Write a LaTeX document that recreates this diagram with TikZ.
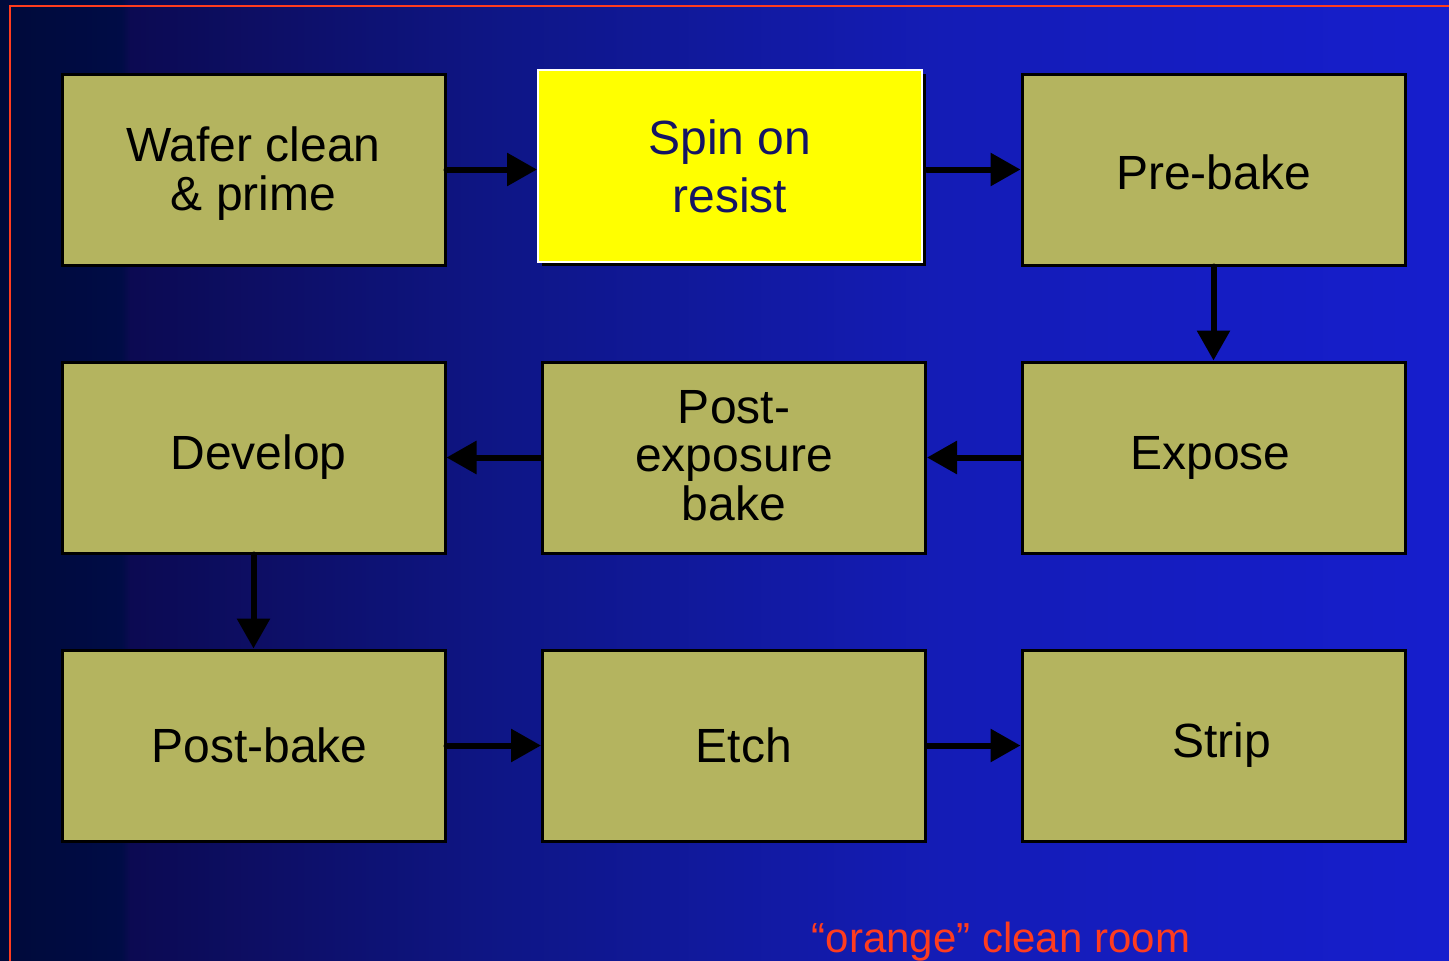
\documentclass[tikz,border=0pt]{standalone}
\usepackage{fontspec}
\setmainfont{Liberation Sans}
\usetikzlibrary{arrows.meta,shadows}
\definecolor{olivebox}{RGB}{180,180,95}
\definecolor{hotyellow}{RGB}{255,255,0}
\definecolor{bgA}{RGB}{0,10,58}
\definecolor{bgB}{RGB}{0,12,70}
\definecolor{bgC}{RGB}{12,10,82}
\definecolor{bgD}{RGB}{14,22,135}
\definecolor{bgE}{RGB}{20,28,182}
\definecolor{bgF}{RGB}{22,30,205}
\definecolor{redline}{RGB}{255,60,30}
\definecolor{navytext}{RGB}{20,20,100}
\pgfdeclarehorizontalshading{bgshade}{100bp}{color(0bp)=(bgA); color(25bp)=(bgA); color(29.2bp)=(bgB); color(29.5bp)=(bgC); color(42.5bp)=(bgD); color(57.5bp)=(bgE); color(75bp)=(bgF); color(100bp)=(bgF)}
\newcommand{\lowerstack}[2]{\raisebox{#1}[\height][\depth]{\begin{tabular}{@{}c@{}}#2\end{tabular}}}
\tikzset{
  stepbox/.style={draw=black, line width=3pt, fill=olivebox, minimum width=383pt, minimum height=191pt, inner sep=0pt, align=center, text=black, font=\fontsize{48}{48}\selectfont},
  hotbox/.style={draw=white, line width=2pt, fill=hotyellow, minimum width=384pt, minimum height=192pt, inner sep=0pt, align=center, text=navytext, font=\fontsize{48}{58}\selectfont, drop shadow={shadow xshift=4pt, shadow yshift=-4pt, fill=black, opacity=1}},
  flow/.style={line width=6pt, line cap=round, -{Triangle[length=30pt,width=32pt]}, draw=black}
}
\begin{document}
\begin{tikzpicture}[x=1pt,y=-1pt]
\useasboundingbox (0,0) rectangle (1449,961);
\fill[shading=bgshade] (0,0) rectangle (1449,961);
\draw[redline, line width=2pt] (9.5,961) -- (9.5,5.5) -- (1449,5.5);

\node[stepbox] (wafer) at (253.5,169.5) {\lowerstack{-6pt}{Wafer clean\\\& prime}};
\node[hotbox] (spin) at (730,166) {Spin on\\resist};
\node[stepbox] (prebake) at (1213.5,169.5) {\raisebox{-3pt}[\height][\depth]{Pre-bake}};
\node[stepbox] (develop) at (253.5,457.5) {\hspace*{10pt}Develop};
\node[stepbox] (peb) at (734,457.5) {\lowerstack{-5pt}{Post-\\exposure\\bake}};
\node[stepbox] (expose) at (1213.5,457.5) {Expose\hspace*{6pt}};
\node[stepbox] (postbake) at (253.5,745.5) {\hspace*{12pt}Post-bake};
\node[stepbox] (etch) at (734,745.5) {\hspace*{20pt}Etch};
\node[stepbox] (strip) at (1213.5,745.5) {\hspace*{16pt}Strip};

\coordinate (spinout) at ([xshift=4pt]spin.east);
\draw[flow] (wafer.east) -- (wafer.east -| spin.west);
\draw[flow] (spinout |- prebake.west) -- (prebake.west);
\draw[flow] (prebake.south) -- (expose.north);
\draw[flow] (expose.west) -- (peb.east);
\draw[flow] (peb.west) -- (develop.east);
\draw[flow] (develop.south) -- (postbake.north);
\draw[flow] (postbake.east) -- (etch.west);
\draw[flow] (etch.east) -- (strip.west);

\node[anchor=base, text=redline, font=\fontsize{42}{44}\selectfont, inner sep=0pt] (room) at (1001,952) {“orange” clean room};
\end{tikzpicture}
\end{document}
